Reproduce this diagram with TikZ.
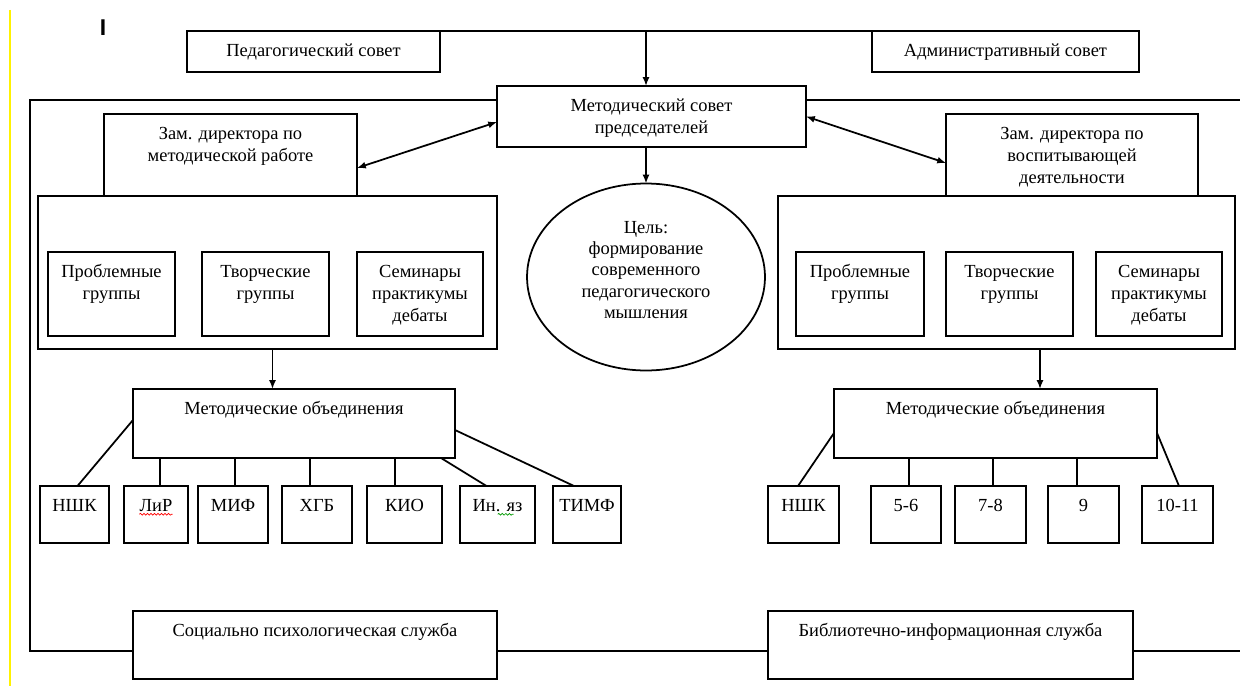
\documentclass[tikz,border=0pt]{standalone}
\usepackage{fontspec}
\setmainfont{Liberation Serif}
\newfontfamily\diagserif{Liberation Serif}
\newfontfamily\marksans{Liberation Sans}
\usetikzlibrary{arrows.meta,shapes.geometric,decorations.pathmorphing}
\tikzset{
	blk/.style={draw, line width=1pt, inner sep=0pt, outer sep=0pt},
	txt/.style={inner sep=0pt, align=center, font=\diagserif\fontsize{10.5}{12.5}\selectfont},
	link/.style={line width=1pt},
	arr/.style={line width=1pt, -{Latex[length=5pt,width=4pt]}},
	darr/.style={line width=1pt, {Latex[length=5pt,width=4pt]}-{Latex[length=5pt,width=4pt]}},
	spell/.style={line width=0.4pt, decorate, decoration={snake, amplitude=0.5pt, segment length=2pt}}
}
\def\blockat(#1)(#2,#3)(#4,#5)#6{%
	\node[blk, minimum width={(#4-#2)*0.02cm}, minimum height={(#5-#3)*0.02cm}] (#1) at ({(#2+#4)/2},{(#3+#5)/2}) {};
	\node[txt, anchor=north] (#1-txt) at ([yshift=-0.2cm]#1.north) {\strut #6};}

\begin{document}
\begin{tikzpicture}[x=0.02cm, y=-0.02cm]
			%%%%% START %%%%%
			\useasboundingbox (0,0) rectangle (1240,686);
			
			\draw[line width=0.06cm, yellow] (10,10) -- (10,686);
			\node[inner sep=0pt, font=\marksans\bfseries\fontsize{13}{13}\selectfont] (cursor) at (103,27.5) {I};
			
			\blockat(ped)(187,31)(440,72){Педагогический совет}
			\blockat(adm)(872,31)(1139,72){Административный совет}
			\blockat(mcs)(497,86)(806,147){Методический совет\\председателей}
			
			\blockat(depL)(104,114)(357,196){Зам. директора по\\методической работе}
			\blockat(depR)(946,114)(1198,196){Зам. директора по\\воспитывающей\\деятельности}
			
			\node[blk, minimum width=9.18cm, minimum height=3.06cm] (grpL) at (267.5,272.5) {};
			\node[blk, minimum width=9.14cm, minimum height=3.06cm] (grpR) at (1006.5,272.5) {};
			
			\blockat(prbL)(48,252)(175,336){Проблемные\\группы}
			\blockat(trvL)(202,252)(329,336){Творческие\\группы}
			\blockat(semL)(357,252)(483,336){Семинары\\практикумы\\дебаты}
			\blockat(prbR)(796,252)(924,336){Проблемные\\группы}
			\blockat(trvR)(946,252)(1073,336){Творческие\\группы}
			\blockat(semR)(1096,252)(1222,336){Семинары\\практикумы\\дебаты}
			
			\node[blk, ellipse, minimum width=4.76cm, minimum height=3.74cm] (goal) at (646,277) {};
			\node[txt, font=\diagserif\fontsize{10.5}{12}\selectfont] (goal-txt) at (646,270) {Цель:\\формирование\\современного\\педагогического\\мышления};
			
			\blockat(moL)(133,389)(455,458){Методические объединения}
			\blockat(moR)(834,389)(1157,458){Методические объединения}
			
			\blockat(nshkL)(40,486)(109,543){НШК}
			\blockat(lirL)(124,486)(188,543){ЛиР}
			\blockat(mifL)(198,486)(268,543){МИФ}
			\blockat(xgbL)(282,486)(352,543){ХГБ}
			\blockat(kioL)(367,486)(442,543){КИО}
			\blockat(inyazL)(460,486)(535,543){Ин. яз}
			\blockat(timfL)(553,486)(621,543){ТИМФ}
			
			\blockat(nshkR)(768,486)(839,543){НШК}
			\blockat(g56)(871,486)(941,543){5-6}
			\blockat(g78)(955,486)(1026,543){7-8}
			\blockat(g9)(1048,486)(1119,543){9}
			\blockat(g1011)(1142,486)(1213,543){10-11}
			
			\blockat(soc)(133,611)(497,679){Социально психологическая служба}
			\blockat(lib)(768,611)(1133,679){Библиотечно-информационная служба}
			
			% frame round the inner part
			\coordinate (fr-tl) at (30,100);
			\coordinate (fr-bl) at (30,651);
			\coordinate (fr-tr) at (1240,100);
			\coordinate (fr-br) at (1240,651);
			\draw[link] (mcs.west |- fr-tl) -- (fr-tl) -- (fr-bl) -- (soc.west |- fr-bl);
			\draw[link] (soc.east |- fr-bl) -- (lib.west |- fr-bl);
			\draw[link] (lib.east |- fr-bl) -- (fr-br);
			\draw[link] (mcs.east |- fr-tr) -- (fr-tr);
			
			% top connections
			\draw[link] (ped.north east) -- (adm.north west);
			\draw[arr] (goal.north |- ped.north) -- (goal.north |- mcs.north);
			\draw[arr] (goal.north |- mcs.south) -- (goal.north);
			\draw[darr] ([yshift=-0.26cm]depL.east) -- ([yshift=-0.11cm]mcs.west);
			\draw[darr] (mcs.east) -- ([yshift=-0.16cm]depR.west);
			
			\draw[arr] ([xshift=0.1cm]grpL.south) -- ([xshift=0.1cm]grpL.south |- moL.north);
			\draw[arr] ([xshift=0.67cm]grpR.south) -- ([xshift=0.67cm]grpR.south |- moR.north);
			
			% left associations
			\draw[link] ([yshift=0.07cm]moL.west) -- ([xshift=0.06cm]nshkL.north);
			\draw[link] ([xshift=0.08cm]lirL.north) -- ([xshift=0.08cm]lirL.north |- moL.south);
			\draw[link] ([xshift=0.04cm]mifL.north) -- ([xshift=0.04cm]mifL.north |- moL.south);
			\draw[link] ([xshift=-0.14cm]xgbL.north) -- ([xshift=-0.14cm]xgbL.north |- moL.south);
			\draw[link] ([xshift=-0.19cm]kioL.north) -- ([xshift=-0.19cm]kioL.north |- moL.south);
			\draw[link] ([xshift=-0.28cm]moL.south east) -- ([xshift=-0.22cm]inyazL.north);
			\draw[link] ([yshift=-0.13cm]moL.east) -- ([xshift=-0.26cm]timfL.north);
			
			% right associations
			\draw[link] ([yshift=-0.19cm]moR.west) -- ([xshift=-0.11cm]nshkR.north);
			\draw[link] ([xshift=0.06cm]g56.north) -- ([xshift=0.06cm]g56.north |- moR.south);
			\draw[link] ([xshift=0.05cm]g78.north) -- ([xshift=0.05cm]g78.north |- moR.south);
			\draw[link] ([xshift=-0.13cm]g9.north) -- ([xshift=-0.13cm]g9.north |- moR.south);
			\draw[link] ([yshift=-0.19cm]moR.east) -- ([xshift=0.03cm]g1011.north);
			
			% spell check marks
			\draw[spell, red] ([yshift=2.5pt]lirL-txt.south west) -- ([yshift=2.5pt]lirL-txt.south east);
			\draw[spell, green!60!black] ([xshift=-0.5cm, yshift=2.5pt]inyazL-txt.south east) -- ([xshift=-0.18cm, yshift=2.5pt]inyazL-txt.south east);
			
			%%%%% END %%%%%
\end{tikzpicture}
\end{document}
